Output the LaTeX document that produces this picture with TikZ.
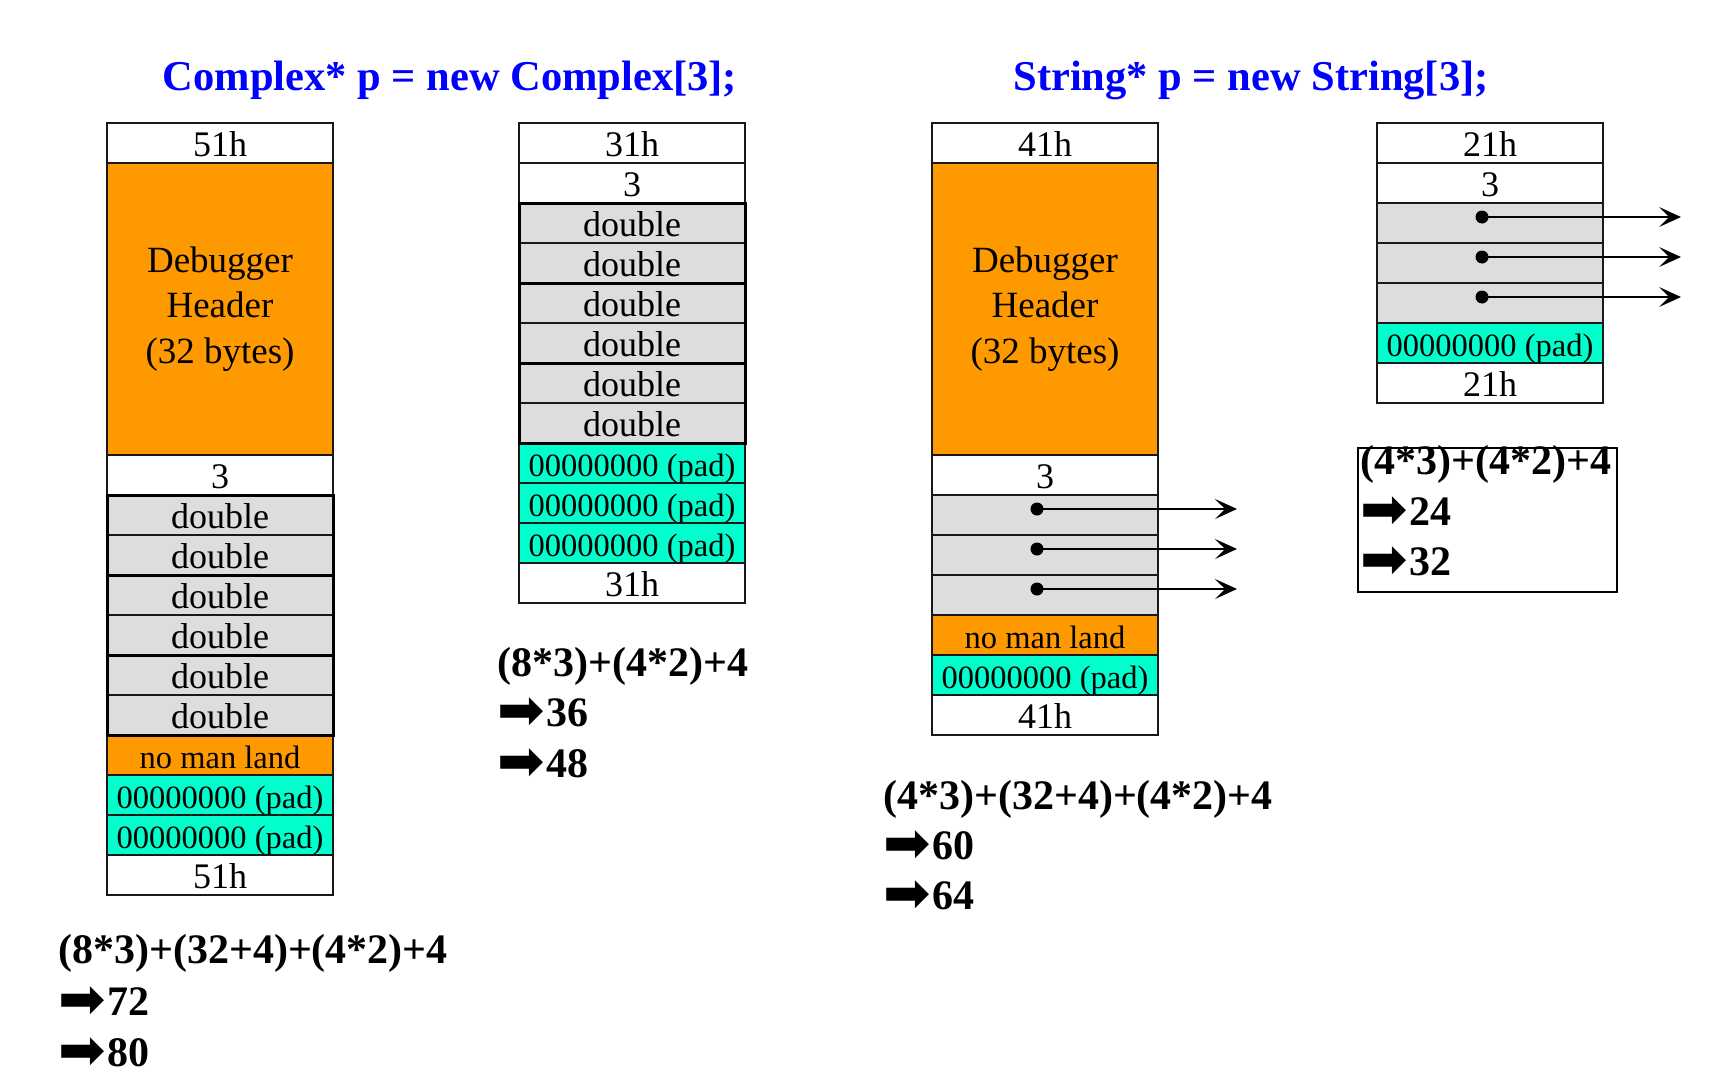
\documentclass[tikz,border=0pt]{standalone}
\usepackage{fontspec}
\setmainfont{Liberation Serif}
\newfontface\arrowfont{DejaVu Sans}
\usetikzlibrary{positioning, arrows.meta}

\definecolor{hdrorange}{RGB}{255,153,0}
\definecolor{padcyan}{RGB}{0,255,204}
\definecolor{slotgray}{RGB}{221,221,221}
\definecolor{titleblue}{RGB}{0,0,255}

\newcommand{\thenarrow}{\smash{\raisebox{-3pt}{\scalebox{1.35}{\arrowfont ➡}}}\hspace{2pt}}

\begin{document}
\begin{tikzpicture}[
      x=1pt, y=-1pt,
      cell_base/.style={rectangle, draw=black!90, line width=1.2pt, fill=white, minimum width=226pt, minimum height=40pt, inner sep=0pt, outer sep=0pt, font=\fontsize{36}{40}\selectfont},
      cell_box/.style={cell_base, text height=30pt, text depth=3pt},
      cell_double/.style={cell_box, fill=slotgray},
      cell_ptr/.style={cell_box, fill=slotgray},
      cell_pad/.style={cell_box, fill=padcyan, font=\fontsize{32.5}{36}\selectfont},
      cell_nml/.style={cell_box, fill=hdrorange, font=\fontsize{32.5}{36}\selectfont},
      cell_hdr/.style={cell_base, fill=hdrorange, minimum height=292pt, align=center, font=\fontsize{37}{45.5}\selectfont},
      group_edge/.style={draw=black, line width=3pt},
      title_txt/.style={text=titleblue, inner sep=0pt, font=\fontsize{42.5}{50}\bfseries\selectfont},
      formula_txt/.style={anchor=base west, inner sep=0pt, font=\fontsize{42}{50}\bfseries\selectfont},
      ptr_dot/.style={circle, fill=black, inner sep=0pt, minimum size=13pt},
      ptr_arrow/.style={-{Stealth[length=22pt, width=20pt, inset=10pt]}, line width=1.2pt},
      node distance=0pt
    ]
      \useasboundingbox (0,0) rectangle (1718,1090);

      % titles
      \node[title_txt] (t_cplx) at (450,80) {Complex* p = new Complex[3];};
      \node[title_txt] (t_str) at (1251,80) {String* p = new String[3];};

      % Complex[3], debug heap
      \node[cell_box, anchor=north west] (a_top) at (107,123) {51h};
      \node[cell_hdr, below=of a_top] (a_hdr) {Debugger\\Header\\(32 bytes)};
      \node[cell_box, below=of a_hdr] (a_cnt) {3};
      \node[cell_double, below=of a_cnt] (a_d1) {double};
      \node[cell_double, below=of a_d1] (a_d2) {double};
      \node[cell_double, below=of a_d2] (a_d3) {double};
      \node[cell_double, below=of a_d3] (a_d4) {double};
      \node[cell_double, below=of a_d4] (a_d5) {double};
      \node[cell_double, below=of a_d5] (a_d6) {double};
      \node[cell_nml, below=of a_d6] (a_nml) {no man land};
      \node[cell_pad, below=of a_nml] (a_p1) {00000000 (pad)};
      \node[cell_pad, below=of a_p1] (a_p2) {00000000 (pad)};
      \node[cell_box, below=of a_p2] (a_bot) {51h};
      \draw[group_edge] (a_d1.north west) rectangle (a_d2.south east);
      \draw[group_edge] (a_d3.north west) rectangle (a_d4.south east);
      \draw[group_edge] (a_d5.north west) rectangle (a_d6.south east);

      % Complex[3], release heap
      \node[cell_box, anchor=north west] (b_top) at (519,123) {31h};
      \node[cell_box, below=of b_top] (b_cnt) {3};
      \node[cell_double, below=of b_cnt] (b_d1) {double};
      \node[cell_double, below=of b_d1] (b_d2) {double};
      \node[cell_double, below=of b_d2] (b_d3) {double};
      \node[cell_double, below=of b_d3] (b_d4) {double};
      \node[cell_double, below=of b_d4] (b_d5) {double};
      \node[cell_double, below=of b_d5] (b_d6) {double};
      \node[cell_pad, below=of b_d6] (b_p1) {00000000 (pad)};
      \node[cell_pad, below=of b_p1] (b_p2) {00000000 (pad)};
      \node[cell_pad, below=of b_p2] (b_p3) {00000000 (pad)};
      \node[cell_box, below=of b_p3] (b_bot) {31h};
      \draw[group_edge] (b_d1.north west) rectangle (b_d2.south east);
      \draw[group_edge] (b_d3.north west) rectangle (b_d4.south east);
      \draw[group_edge] (b_d5.north west) rectangle (b_d6.south east);

      % String[3], debug heap
      \node[cell_box, anchor=north west] (c_top) at (932,123) {41h};
      \node[cell_hdr, below=of c_top] (c_hdr) {Debugger\\Header\\(32 bytes)};
      \node[cell_box, below=of c_hdr] (c_cnt) {3};
      \node[cell_ptr, below=of c_cnt] (c_s1) {};
      \node[cell_ptr, below=of c_s1] (c_s2) {};
      \node[cell_ptr, below=of c_s2] (c_s3) {};
      \node[cell_nml, below=of c_s3] (c_nml) {no man land};
      \node[cell_pad, below=of c_nml] (c_p1) {00000000 (pad)};
      \node[cell_box, below=of c_p1] (c_bot) {41h};
      \node[ptr_dot, xshift=-8pt, yshift=6pt] (c_b1) at (c_s1.center) {};
      \node[ptr_dot, xshift=-8pt, yshift=6pt] (c_b2) at (c_s2.center) {};
      \node[ptr_dot, xshift=-8pt, yshift=6pt] (c_b3) at (c_s3.center) {};
      \coordinate[right=200pt of c_b1.center] (c_e1);
      \coordinate[right=200pt of c_b2.center] (c_e2);
      \coordinate[right=200pt of c_b3.center] (c_e3);
      \draw[ptr_arrow] (c_b1.center) -- (c_e1);
      \draw[ptr_arrow] (c_b2.center) -- (c_e2);
      \draw[ptr_arrow] (c_b3.center) -- (c_e3);

      % String[3], release heap
      \node[cell_box, anchor=north west] (d_top) at (1377,123) {21h};
      \node[cell_box, below=of d_top] (d_cnt) {3};
      \node[cell_ptr, below=of d_cnt] (d_s1) {};
      \node[cell_ptr, below=of d_s1] (d_s2) {};
      \node[cell_ptr, below=of d_s2] (d_s3) {};
      \node[cell_pad, below=of d_s3] (d_p1) {00000000 (pad)};
      \node[cell_box, below=of d_p1] (d_bot) {21h};
      \node[ptr_dot, xshift=-8pt, yshift=6pt] (d_b1) at (d_s1.center) {};
      \node[ptr_dot, xshift=-8pt, yshift=6pt] (d_b2) at (d_s2.center) {};
      \node[ptr_dot, xshift=-8pt, yshift=6pt] (d_b3) at (d_s3.center) {};
      \coordinate[right=199pt of d_b1.center] (d_e1);
      \coordinate[right=199pt of d_b2.center] (d_e2);
      \coordinate[right=199pt of d_b3.center] (d_e3);
      \draw[ptr_arrow] (d_b1.center) -- (d_e1);
      \draw[ptr_arrow] (d_b2.center) -- (d_e2);
      \draw[ptr_arrow] (d_b3.center) -- (d_e3);

      % sizes
      \node[formula_txt] (f_a) at (58,963) {(8*3)+(32+4)+(4*2)+4};
      \node[formula_txt] (f_a1) at (58,1015) {\thenarrow72};
      \node[formula_txt] (f_a2) at (58,1066) {\thenarrow80};

      \node[formula_txt] (f_b) at (497,676) {(8*3)+(4*2)+4};
      \node[formula_txt] (f_b1) at (497,726) {\thenarrow36};
      \node[formula_txt] (f_b2) at (497,777) {\thenarrow48};

      \node[formula_txt] (f_c) at (883,809) {(4*3)+(32+4)+(4*2)+4};
      \node[formula_txt] (f_c1) at (883,859) {\thenarrow60};
      \node[formula_txt] (f_c2) at (883,909) {\thenarrow64};

      \node[rectangle, draw, line width=1.5pt, minimum width=259pt, minimum height=144pt, inner sep=0pt, anchor=north west] (f_d_box) at (1357,447) {};
      \node[formula_txt] (f_d) at (1360,474) {(4*3)+(4*2)+4};
      \node[formula_txt] (f_d1) at (1360,525) {\thenarrow24};
      \node[formula_txt] (f_d2) at (1360,575) {\thenarrow32};
    \end{tikzpicture}
\end{document}
